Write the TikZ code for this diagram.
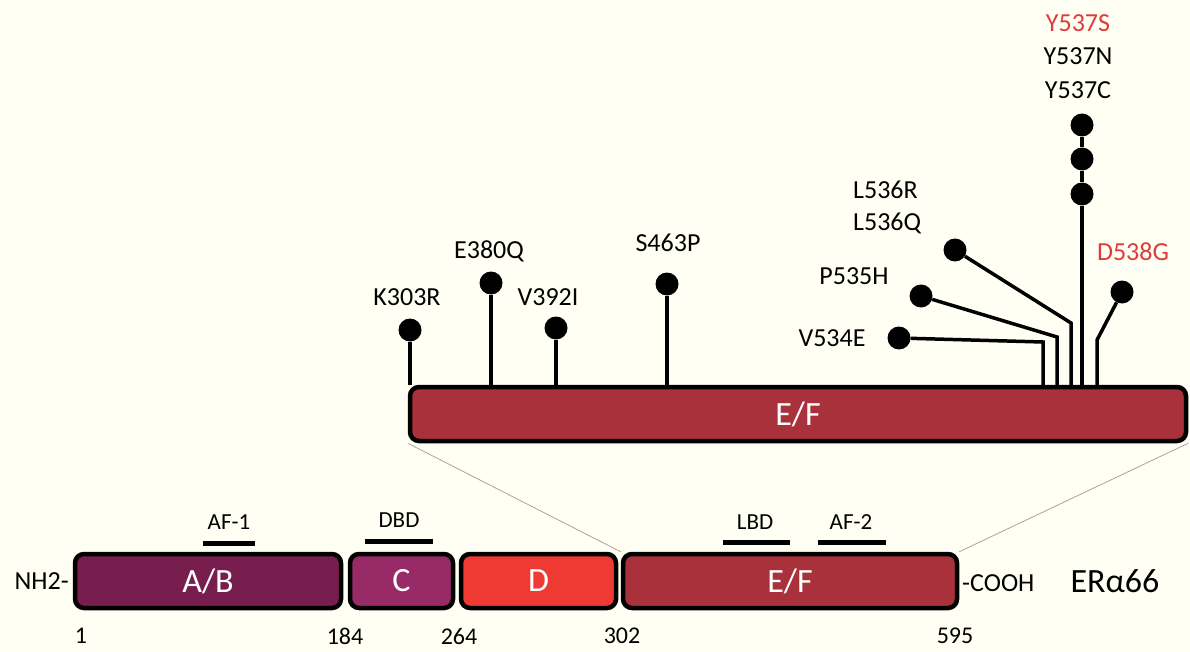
\documentclass[tikz,border=0pt]{standalone}
\usepackage{fontspec}
\setmainfont{Carlito}
\definecolor{bgcol}{RGB}{255,255,243}
\definecolor{colAB}{RGB}{120,30,78}
\definecolor{colC}{RGB}{152,42,104}
\definecolor{colD}{RGB}{238,58,51}
\definecolor{colEF}{RGB}{168,49,60}
\definecolor{redtxt}{RGB}{222,60,58}
\definecolor{thin}{RGB}{165,165,160}
\begin{document}
\begin{tikzpicture}[x=1pt,y=-1pt,
  dom/.style={draw=black, line width=4.5pt, rounded corners=9pt, minimum height=54pt, inner sep=0pt, text=white, font=\fontsize{34}{34}\selectfont},
  lolli/.style={circle, fill=black, minimum size=23pt, inner sep=0pt},
  stem/.style={line width=3.5pt},
  mlab/.style={font=\fontsize{26}{26}\selectfont, inner sep=0pt},
  slab/.style={font=\fontsize{23}{23}\selectfont, inner sep=0pt},
  nlab/.style={font=\fontsize{24}{24}\selectfont, inner sep=0pt},
  bar/.style={line width=5pt},
  zoomline/.style={draw=thin, line width=0.8pt}]
\fill[bgcol] (0,0) rectangle (1190,652);
\useasboundingbox (0,0) rectangle (1190,652);

% lollipop heads
\node[lolli] (cK) at (410,330) {};
\node[lolli] (cE) at (491,283) {};
\node[lolli] (cV) at (556,328) {};
\node[lolli] (cS) at (667,284) {};
\node[lolli] (cY1) at (1082,125) {};
\node[lolli] (cY2) at (1082,159) {};
\node[lolli] (cY3) at (1082,194) {};
\node[lolli] (cL) at (955,250) {};
\node[lolli] (cP) at (921,296) {};
\node[lolli] (cVE) at (899,338) {};
\node[lolli] (cD) at (1122,292) {};
\coordinate (bL) at (1071,323);
\coordinate (bP) at (1057,337);
\coordinate (bVE) at (1043,342);
\coordinate (bD) at (1097,340);

% top box
\node[dom, fill=colEF, minimum width=776pt] (top) at (798,414) {E/F};

% bottom boxes
\node[dom, fill=colAB, minimum width=266pt] (ab) at (208,581) {A/B};
\node[dom, fill=colC, minimum width=103pt] (c) at (401.5,581) {C};
\node[dom, fill=colD, minimum width=155pt] (d) at (538.5,581) {D};
\node[dom, fill=colEF, minimum width=334pt] (ef) at (790,581) {E/F};

% zoom lines
\draw[zoomline] (top.south west) -- (ef.north west);
\draw[zoomline] (top.south east) -- (ef.north east);

% stems
\draw[stem] (cK) -- (cK |- top.north);
\draw[stem] (cE) -- (cE |- top.north);
\draw[stem] (cV) -- (cV |- top.north);
\draw[stem] (cS) -- (cS |- top.north);
\draw[stem] (cY1) -- (cY2) -- (cY3) -- (cY3 |- top.north);
\draw[stem] (cL) -- (bL) -- (bL |- top.north);
\draw[stem] (cP) -- (bP) -- (bP |- top.north);
\draw[stem] (cVE) -- (bVE) -- (bVE |- top.north);
\draw[stem] (cD) -- (bD) -- (bD |- top.north);

% mutation labels
\node[mlab] (lK) at (407,297) {K303R};
\node[mlab] (lE) at (489,251) {E380Q};
\node[mlab] (lV) at (548,297) {V392I};
\node[mlab] (lS) at (668,243) {S463P};
\node[mlab, anchor=west] (lL1) at (853,190) {L536R};
\node[mlab, anchor=west] (lL2) at (853,223) {L536Q};
\node[mlab] (lP) at (854,276) {P535H};
\node[mlab] (lVE) at (832,338) {V534E};
\node[mlab, text=redtxt] (lD) at (1133,252) {D538G};
\node[mlab, text=redtxt] (lY1) at (1078,23) {Y537S};
\node[mlab] (lY2) at (1078,56) {Y537N};
\node[mlab] (lY3) at (1078,90) {Y537C};

% domain bars
\draw[bar] (203,543) -- (255,543);
\draw[bar] (365,541) -- (433,541);
\draw[bar] (723,542) -- (790,542);
\draw[bar] (818,542) -- (886,542);
\node[slab] (tAF1) at (229,522) {AF-1};
\node[slab] (tDBD) at (399,520) {DBD};
\node[slab] (tLBD) at (755,522) {LBD};
\node[slab] (tAF2) at (851,522) {AF-2};

% terminal labels
\node[font=\fontsize{26}{26}\selectfont, inner sep=0pt, anchor=east] (nh2) at (69,581) {NH2-};
\node[font=\fontsize{26}{26}\selectfont, inner sep=0pt, anchor=west] (cooh) at (962,583) {-COOH};
\node[font=\fontsize{34}{34}\selectfont, inner sep=0pt] (era) at (1115,581) {ERα66};

% position numbers
\node[nlab] (n1) at (81,636) {1};
\node[nlab] (n184) at (345,636) {184};
\node[nlab] (n264) at (459,636) {264};
\node[nlab] (n302) at (622,636) {302};
\node[nlab] (n595) at (955,636) {595};
\end{tikzpicture}
\end{document}
